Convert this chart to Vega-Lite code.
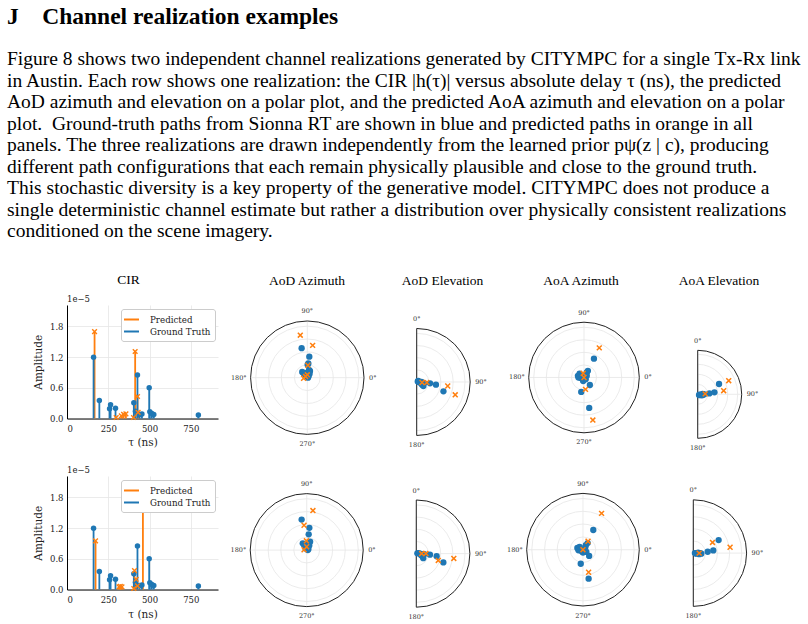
{
  "$schema": "https://vega.github.io/schema/vega-lite/v6.json",
  "background": "white",
  "padding": {"left": 0, "top": 4, "right": 0, "bottom": 0},
  "bounds": "flush",
  "align": "each",
  "spacing": 0,
  "columns": 6,
  "title": {
    "text": "J\u00a0\u00a0\u00a0\u00a0Channel realization examples",
    "subtitle": [
      "Figure 8 shows two independent channel realizations generated by CITYMPC for a single Tx-Rx link",
      "in Austin. Each row shows one realization: the CIR |h(τ)| versus absolute delay τ (ns), the predicted",
      "AoD azimuth and elevation on a polar plot, and the predicted AoA azimuth and elevation on a polar",
      "plot.\u00a0 Ground-truth paths from Sionna RT are shown in blue and predicted paths in orange in all",
      "panels. The three realizations are drawn independently from the learned prior pψ(z | c), producing",
      "different path configurations that each remain physically plausible and close to the ground truth.",
      "This stochastic diversity is a key property of the generative model. CITYMPC does not produce a",
      "single deterministic channel estimate but rather a distribution over physically consistent realizations",
      "conditioned on the scene imagery."
    ],
    "anchor": "start",
    "frame": "group",
    "orient": "top",
    "dx": 7,
    "offset": 32.5,
    "font": "Liberation Serif",
    "fontSize": 23.5,
    "fontWeight": "bold",
    "color": "#000",
    "subtitleFont": "Liberation Serif",
    "subtitleFontSize": 19.5,
    "subtitleColor": "#000",
    "subtitleLineHeight": 21.5,
    "subtitlePadding": 22
  },
  "datasets": {
    "cir1": [
      {"series": "Predicted", "delay_ns": 167, "amp": 1.7},
      {"series": "Predicted", "delay_ns": 298, "amp": 0.02},
      {"series": "Predicted", "delay_ns": 329, "amp": 0.05},
      {"series": "Predicted", "delay_ns": 343, "amp": 0.08},
      {"series": "Predicted", "delay_ns": 357, "amp": 0.09},
      {"series": "Predicted", "delay_ns": 403, "amp": 0.02},
      {"series": "Predicted", "delay_ns": 413, "amp": 1.31},
      {"series": "Predicted", "delay_ns": 427, "amp": 0.43},
      {"series": "Predicted", "delay_ns": 431, "amp": 0.12},
      {"series": "Ground Truth", "delay_ns": 161, "amp": 1.2},
      {"series": "Ground Truth", "delay_ns": 196, "amp": 0.35},
      {"series": "Ground Truth", "delay_ns": 258, "amp": 0.19},
      {"series": "Ground Truth", "delay_ns": 264, "amp": 0.27},
      {"series": "Ground Truth", "delay_ns": 294, "amp": 0.2},
      {"series": "Ground Truth", "delay_ns": 405, "amp": 0.31},
      {"series": "Ground Truth", "delay_ns": 415, "amp": 0.14},
      {"series": "Ground Truth", "delay_ns": 427, "amp": 0.85},
      {"series": "Ground Truth", "delay_ns": 440, "amp": 0.08},
      {"series": "Ground Truth", "delay_ns": 454, "amp": 0.09},
      {"series": "Ground Truth", "delay_ns": 498, "amp": 0.6},
      {"series": "Ground Truth", "delay_ns": 502, "amp": 0.13},
      {"series": "Ground Truth", "delay_ns": 514, "amp": 0.1},
      {"series": "Ground Truth", "delay_ns": 526, "amp": 0.08},
      {"series": "Ground Truth", "delay_ns": 796, "amp": 0.07}
    ],
    "cir2": [
      {"series": "Predicted", "delay_ns": 173, "amp": 0.95},
      {"series": "Predicted", "delay_ns": 315, "amp": 0.05},
      {"series": "Predicted", "delay_ns": 323, "amp": 0.06},
      {"series": "Predicted", "delay_ns": 333, "amp": 0.05},
      {"series": "Predicted", "delay_ns": 405, "amp": 0.02},
      {"series": "Predicted", "delay_ns": 409, "amp": 0.37},
      {"series": "Predicted", "delay_ns": 419, "amp": 0.2},
      {"series": "Predicted", "delay_ns": 427, "amp": 0.07},
      {"series": "Predicted", "delay_ns": 460, "amp": 1.58},
      {"series": "Ground Truth", "delay_ns": 161, "amp": 1.2},
      {"series": "Ground Truth", "delay_ns": 196, "amp": 0.35},
      {"series": "Ground Truth", "delay_ns": 258, "amp": 0.19},
      {"series": "Ground Truth", "delay_ns": 264, "amp": 0.27},
      {"series": "Ground Truth", "delay_ns": 294, "amp": 0.2},
      {"series": "Ground Truth", "delay_ns": 405, "amp": 0.31},
      {"series": "Ground Truth", "delay_ns": 415, "amp": 0.14},
      {"series": "Ground Truth", "delay_ns": 427, "amp": 0.85},
      {"series": "Ground Truth", "delay_ns": 440, "amp": 0.08},
      {"series": "Ground Truth", "delay_ns": 454, "amp": 0.09},
      {"series": "Ground Truth", "delay_ns": 498, "amp": 0.6},
      {"series": "Ground Truth", "delay_ns": 502, "amp": 0.13},
      {"series": "Ground Truth", "delay_ns": 514, "amp": 0.1},
      {"series": "Ground Truth", "delay_ns": 526, "amp": 0.08},
      {"series": "Ground Truth", "delay_ns": 796, "amp": 0.07}
    ],
    "aod_az_1": [
      {"series": "Ground Truth", "x": -0.1, "y": 0.52}, {"series": "Ground Truth", "x": 0.035, "y": 0.37},
      {"series": "Ground Truth", "x": 0.018, "y": 0.25}, {"series": "Ground Truth", "x": 0.006, "y": 0.23},
      {"series": "Ground Truth", "x": 0.03, "y": 0.135}, {"series": "Ground Truth", "x": 0.047, "y": 0.12},
      {"series": "Ground Truth", "x": -0.09, "y": 0.1}, {"series": "Ground Truth", "x": -0.06, "y": 0.076},
      {"series": "Ground Truth", "x": -0.024, "y": 0.06}, {"series": "Ground Truth", "x": 0.024, "y": 0.03},
      {"series": "Ground Truth", "x": 0.012, "y": 0.0}, {"series": "Ground Truth", "x": -0.03, "y": 0.05},
      {"series": "Ground Truth", "x": 0.0, "y": 0.09}, {"series": "Ground Truth", "x": 0.04, "y": 0.07},
      {"series": "Ground Truth", "x": -0.07, "y": 0.085},
      {"series": "Predicted", "x": -0.124, "y": 0.75}, {"series": "Predicted", "x": 0.094, "y": 0.57},
      {"series": "Predicted", "x": 0.01, "y": 0.22}, {"series": "Predicted", "x": -0.065, "y": -0.01},
      {"series": "Predicted", "x": 0.0, "y": 0.05}, {"series": "Predicted", "x": -0.03, "y": 0.02}
    ],
    "aod_el_1": [
      {"series": "Ground Truth", "x": 0.02, "y": 0.01}, {"series": "Ground Truth", "x": 0.03, "y": 0.02},
      {"series": "Ground Truth", "x": 0.06, "y": -0.01}, {"series": "Ground Truth", "x": 0.08, "y": -0.005},
      {"series": "Ground Truth", "x": 0.106, "y": -0.02}, {"series": "Ground Truth", "x": 0.125, "y": -0.075},
      {"series": "Ground Truth", "x": 0.1, "y": -0.05}, {"series": "Ground Truth", "x": 0.14, "y": -0.02},
      {"series": "Ground Truth", "x": 0.25, "y": -0.025}, {"series": "Ground Truth", "x": 0.36, "y": -0.05},
      {"series": "Ground Truth", "x": 0.5, "y": -0.175}, {"series": "Ground Truth", "x": 0.04, "y": 0.0},
      {"series": "Ground Truth", "x": 0.09, "y": 0.0},
      {"series": "Predicted", "x": 0.58, "y": -0.075}, {"series": "Predicted", "x": 0.72, "y": -0.24},
      {"series": "Predicted", "x": 0.19, "y": -0.01}, {"series": "Predicted", "x": 0.1, "y": -0.01}
    ],
    "aoa_az_1": [
      {"series": "Ground Truth", "x": 0.18, "y": 0.34}, {"series": "Ground Truth", "x": 0.07, "y": 0.12},
      {"series": "Ground Truth", "x": 0.05, "y": 0.09}, {"series": "Ground Truth", "x": -0.11, "y": 0.03},
      {"series": "Ground Truth", "x": -0.08, "y": 0.07}, {"series": "Ground Truth", "x": -0.06, "y": -0.01},
      {"series": "Ground Truth", "x": -0.02, "y": -0.03}, {"series": "Ground Truth", "x": -0.015, "y": -0.064},
      {"series": "Ground Truth", "x": 0.03, "y": -0.03}, {"series": "Ground Truth", "x": 0.05, "y": 0.03},
      {"series": "Ground Truth", "x": 0.106, "y": -0.136}, {"series": "Ground Truth", "x": -0.05, "y": -0.26},
      {"series": "Ground Truth", "x": 0.094, "y": -0.55}, {"series": "Ground Truth", "x": -0.1, "y": 0.0},
      {"series": "Ground Truth", "x": 0.0, "y": 0.02},
      {"series": "Predicted", "x": 0.276, "y": 0.536}, {"series": "Predicted", "x": 0.027, "y": -0.215},
      {"series": "Predicted", "x": 0.16, "y": -0.77}, {"series": "Predicted", "x": -0.015, "y": 0.076},
      {"series": "Predicted", "x": 0.0, "y": 0.0}
    ],
    "aoa_el_1": [
      {"series": "Ground Truth", "x": 0.05, "y": -0.01}, {"series": "Ground Truth", "x": 0.08, "y": -0.02},
      {"series": "Ground Truth", "x": 0.11, "y": 0.01}, {"series": "Ground Truth", "x": 0.13, "y": -0.005},
      {"series": "Ground Truth", "x": 0.15, "y": 0.0}, {"series": "Ground Truth", "x": 0.265, "y": 0.02},
      {"series": "Ground Truth", "x": 0.38, "y": 0.045}, {"series": "Ground Truth", "x": 0.485, "y": 0.235},
      {"series": "Ground Truth", "x": 0.03, "y": -0.015}, {"series": "Ground Truth", "x": 0.1, "y": -0.02},
      {"series": "Predicted", "x": 0.705, "y": 0.31}, {"series": "Predicted", "x": 0.59, "y": 0.083},
      {"series": "Predicted", "x": 0.17, "y": 0.01}
    ],
    "aod_az_2": [
      {"series": "Ground Truth", "x": -0.09, "y": 0.54}, {"series": "Ground Truth", "x": 0.047, "y": 0.395},
      {"series": "Ground Truth", "x": 0.035, "y": 0.28}, {"series": "Ground Truth", "x": 0.06, "y": 0.15},
      {"series": "Ground Truth", "x": 0.04, "y": 0.11}, {"series": "Ground Truth", "x": -0.07, "y": 0.12},
      {"series": "Ground Truth", "x": -0.04, "y": 0.095}, {"series": "Ground Truth", "x": -0.01, "y": 0.065},
      {"series": "Ground Truth", "x": 0.03, "y": 0.02}, {"series": "Ground Truth", "x": 0.015, "y": 0.05},
      {"series": "Ground Truth", "x": -0.05, "y": 0.1}, {"series": "Ground Truth", "x": 0.02, "y": 0.0},
      {"series": "Ground Truth", "x": 0.045, "y": 0.08}, {"series": "Ground Truth", "x": -0.02, "y": 0.03},
      {"series": "Predicted", "x": 0.11, "y": 0.7}, {"series": "Predicted", "x": -0.047, "y": 0.44},
      {"series": "Predicted", "x": -0.006, "y": 0.165}, {"series": "Predicted", "x": -0.047, "y": 0.006},
      {"series": "Predicted", "x": 0.0, "y": 0.06}
    ],
    "aod_el_2": [
      {"series": "Ground Truth", "x": 0.04, "y": 0.01}, {"series": "Ground Truth", "x": 0.07, "y": 0.0},
      {"series": "Ground Truth", "x": 0.1, "y": -0.01}, {"series": "Ground Truth", "x": 0.13, "y": -0.085},
      {"series": "Ground Truth", "x": 0.12, "y": -0.05}, {"series": "Ground Truth", "x": 0.255, "y": -0.02},
      {"series": "Ground Truth", "x": 0.38, "y": -0.05}, {"series": "Ground Truth", "x": 0.505, "y": -0.165},
      {"series": "Ground Truth", "x": 0.02, "y": 0.005}, {"series": "Ground Truth", "x": 0.09, "y": -0.03},
      {"series": "Ground Truth", "x": 0.15, "y": -0.01},
      {"series": "Predicted", "x": 0.7, "y": -0.09}, {"series": "Predicted", "x": 0.41, "y": -0.127},
      {"series": "Predicted", "x": 0.18, "y": 0.0}, {"series": "Predicted", "x": 0.1, "y": 0.0}
    ],
    "aoa_az_2": [
      {"series": "Ground Truth", "x": 0.183, "y": 0.35}, {"series": "Ground Truth", "x": 0.083, "y": 0.118},
      {"series": "Ground Truth", "x": 0.05, "y": 0.08}, {"series": "Ground Truth", "x": -0.1, "y": 0.03},
      {"series": "Ground Truth", "x": -0.06, "y": 0.05}, {"series": "Ground Truth", "x": -0.05, "y": 0.0},
      {"series": "Ground Truth", "x": -0.02, "y": -0.03}, {"series": "Ground Truth", "x": 0.02, "y": -0.02},
      {"series": "Ground Truth", "x": 0.04, "y": 0.04}, {"series": "Ground Truth", "x": 0.11, "y": -0.11},
      {"series": "Ground Truth", "x": -0.04, "y": -0.25}, {"series": "Ground Truth", "x": 0.1, "y": -0.515},
      {"series": "Ground Truth", "x": -0.08, "y": -0.01}, {"series": "Ground Truth", "x": 0.0, "y": -0.05},
      {"series": "Ground Truth", "x": 0.06, "y": -0.04},
      {"series": "Predicted", "x": 0.33, "y": 0.645}, {"series": "Predicted", "x": 0.1, "y": -0.4},
      {"series": "Predicted", "x": 0.09, "y": 0.15}, {"series": "Predicted", "x": 0.0, "y": 0.0}
    ],
    "aoa_el_2": [
      {"series": "Ground Truth", "x": 0.045, "y": -0.005}, {"series": "Ground Truth", "x": 0.09, "y": 0.01},
      {"series": "Ground Truth", "x": 0.13, "y": 0.0}, {"series": "Ground Truth", "x": 0.15, "y": -0.01},
      {"series": "Ground Truth", "x": 0.27, "y": 0.025}, {"series": "Ground Truth", "x": 0.375, "y": 0.05},
      {"series": "Ground Truth", "x": 0.475, "y": 0.245}, {"series": "Ground Truth", "x": 0.03, "y": 0.0},
      {"series": "Ground Truth", "x": 0.11, "y": -0.02}, {"series": "Ground Truth", "x": 0.06, "y": -0.01},
      {"series": "Predicted", "x": 0.36, "y": 0.2}, {"series": "Predicted", "x": 0.69, "y": 0.11},
      {"series": "Predicted", "x": 0.11, "y": 0.0}
    ]
  },
  "concat": [
    {"width": 67, "height": 20, "data": {"values": [{}]}, "mark": {"type": "text", "text": ""}},
    {
      "width": 151, "height": 113.5,
      "title": {"text": "CIR", "dx": -14, "offset": 1.5, "baseline": "middle", "anchor": "middle", "frame": "group", "font": "Liberation Serif", "fontSize": 13.5, "fontWeight": "normal", "color": "#000"},
      "data": {"name": "cir1"},
      "layer": [
        {
          "mark": {"type": "rule", "strokeWidth": 1.8},
          "encoding": {
            "x": {"field": "delay_ns", "type": "quantitative", "scale": {"domain": [0, 915], "nice": false, "zero": false},
                  "axis": {"values": [0, 250, 500, 750], "tickCount": 10, "title": "τ (ns)", "grid": true, "gridColor": "#e6e6e6", "gridWidth": 0.8, "ticks": false, "labelOverlap": false, "domainColor": "#000", "domainWidth": 1, "labelFont": "DejaVu Serif", "labelFontSize": 8.5, "labelColor": "#222", "labelPadding": 6, "titleFont": "DejaVu Serif", "titleFontSize": 10.5, "titleFontWeight": "normal", "titleColor": "#222", "titlePadding": 4}},
            "y": {"field": "amp", "type": "quantitative", "scale": {"domain": [0, 2.22], "nice": false, "zero": false},
                  "axis": {"values": [0, 0.6, 1.2, 1.8], "tickCount": 10, "format": ".1f", "title": "Amplitude", "grid": true, "gridColor": "#e6e6e6", "gridWidth": 0.8, "ticks": false, "labelOverlap": false, "domainColor": "#000", "domainWidth": 1, "labelFont": "DejaVu Serif", "labelFontSize": 8.5, "labelColor": "#222", "labelPadding": 4, "titleFont": "DejaVu Serif", "titleFontSize": 10.5, "titleFontWeight": "normal", "titleColor": "#222", "titlePadding": 6}},
            "y2": {"datum": 0},
            "color": {"field": "series", "type": "nominal", "scale": {"domain": ["Predicted", "Ground Truth"], "range": ["#ff7f0e", "#1f77b4"]},
                      "legend": {"title": null, "orient": "top-right", "offset": 3.5, "fillColor": "#fff", "strokeColor": "#cccccc", "cornerRadius": 2.5, "padding": 4, "symbolType": "M-1.36,0L1.36,0", "symbolSize": 121, "symbolStrokeWidth": 2, "labelFont": "DejaVu Serif", "labelFontSize": 8.7, "labelColor": "#222", "labelOffset": 12, "rowPadding": 0}}
          }
        },
        {
          "transform": [{"filter": "datum.series === 'Ground Truth'"}],
          "mark": {"type": "point", "shape": "circle", "filled": true, "size": 30, "color": "#1f77b4", "opacity": 1},
          "encoding": {"x": {"field": "delay_ns", "type": "quantitative"}, "y": {"field": "amp", "type": "quantitative"}}
        },
        {
          "transform": [{"filter": "datum.series === 'Predicted'"}],
          "mark": {"type": "point", "shape": "M-1,-1L1,1M-1,1L1,-1", "filled": false, "size": 22, "strokeWidth": 1.4, "color": "#ff7f0e", "opacity": 1},
          "encoding": {"x": {"field": "delay_ns", "type": "quantitative"}, "y": {"field": "amp", "type": "quantitative"}}
        },
        {
          "data": {"values": [{}]},
          "mark": {"type": "text", "text": "1e−5", "align": "left", "baseline": "middle", "dy": -6, "font": "DejaVu Serif", "fontSize": 8.5, "color": "#222"},
          "encoding": {"x": {"datum": 0, "type": "quantitative"}, "y": {"datum": 2.22, "type": "quantitative"}}
        }
      ]
    },
    {
      "width": 162, "height": 170.6,
      "title": {"text": "AoD Azimuth", "dx": 8, "offset": 11, "baseline": "middle", "anchor": "middle", "frame": "group", "font": "Liberation Serif", "fontSize": 13.5, "fontWeight": "normal", "color": "#000"},
      "layer": [
        {"data": {"values": [{"r": 0.227}, {"r": 0.455}, {"r": 0.682}, {"r": 0.909}]},
         "mark": {"type": "arc", "theta": 0, "theta2": 6.2832, "fill": "transparent", "stroke": "#e6e6e6", "strokeWidth": 0.8},
         "encoding": {"radius": {"field": "r", "type": "quantitative", "stack": null, "scale": {"type": "linear", "domain": [0, 1], "range": [0, 56.7], "zero": false, "nice": false}},
                      "x": {"datum": 0, "type": "quantitative", "scale": {"domain": [-1.575, 1.282], "nice": false, "zero": false}, "axis": null},
                      "y": {"datum": 0, "type": "quantitative", "scale": {"domain": [-1.727, 1.282], "nice": false, "zero": false}, "axis": null}}},
        {"data": {"values": [{"x": -1, "y": 0, "x2": 1, "y2": 0}, {"x": 0, "y": -1, "x2": 0, "y2": 1}]},
         "mark": {"type": "rule", "stroke": "#e6e6e6", "strokeWidth": 0.8},
         "encoding": {"x": {"field": "x", "type": "quantitative", "axis": null}, "y": {"field": "y", "type": "quantitative", "axis": null}, "x2": {"field": "x2"}, "y2": {"field": "y2"}}},
        {"data": {"values": [{"r": 1}]},
         "mark": {"type": "arc", "theta": 0, "theta2": 6.2832, "fill": "transparent", "stroke": "#222", "strokeWidth": 1},
         "encoding": {"radius": {"field": "r", "type": "quantitative", "stack": null}, "x": {"datum": 0, "type": "quantitative", "axis": null}, "y": {"datum": 0, "type": "quantitative", "axis": null}}},
        {"data": {"name": "aod_az_1"}, "transform": [{"filter": "datum.series === 'Ground Truth'"}],
         "mark": {"type": "point", "shape": "circle", "filled": true, "size": 40, "color": "#1f77b4", "opacity": 1},
         "encoding": {"x": {"field": "x", "type": "quantitative", "axis": null}, "y": {"field": "y", "type": "quantitative", "axis": null}}},
        {"data": {"name": "aod_az_1"}, "transform": [{"filter": "datum.series === 'Predicted'"}],
         "mark": {"type": "point", "shape": "M-1,-1L1,1M-1,1L1,-1", "filled": false, "size": 24, "strokeWidth": 1.5, "color": "#ff7f0e", "opacity": 1},
         "encoding": {"x": {"field": "x", "type": "quantitative", "axis": null}, "y": {"field": "y", "type": "quantitative", "axis": null}}},
        {"data": {"values": [{}]}, "mark": {"type": "text", "text": "90°", "dy": -9.5, "align": "center", "baseline": "middle", "font": "DejaVu Serif", "fontSize": 6.5, "color": "#333"},
         "encoding": {"x": {"datum": 0, "type": "quantitative", "axis": null}, "y": {"datum": 1, "type": "quantitative", "axis": null}}},
        {"data": {"values": [{}]}, "mark": {"type": "text", "text": "0°", "dx": 5, "align": "left", "baseline": "middle", "font": "DejaVu Serif", "fontSize": 6.5, "color": "#333"},
         "encoding": {"x": {"datum": 1, "type": "quantitative", "axis": null}, "y": {"datum": 0, "type": "quantitative", "axis": null}}},
        {"data": {"values": [{}]}, "mark": {"type": "text", "text": "180°", "dx": -4, "align": "right", "baseline": "middle", "font": "DejaVu Serif", "fontSize": 6.5, "color": "#333"},
         "encoding": {"x": {"datum": -1, "type": "quantitative", "axis": null}, "y": {"datum": 0, "type": "quantitative", "axis": null}}},
        {"data": {"values": [{}]}, "mark": {"type": "text", "text": "270°", "dy": 9.5, "align": "center", "baseline": "middle", "font": "DejaVu Serif", "fontSize": 6.5, "color": "#333"},
         "encoding": {"x": {"datum": 0, "type": "quantitative", "axis": null}, "y": {"datum": -1, "type": "quantitative", "axis": null}}}
      ]
    },
    {
      "width": 120, "height": 170.6,
      "title": {"text": "AoD Elevation", "dx": 2.5, "offset": 11, "baseline": "middle", "anchor": "middle", "frame": "group", "font": "Liberation Serif", "fontSize": 13.5, "fontWeight": "normal", "color": "#000"},
      "layer": [
        {"data": {"values": [{"r": 0.227}, {"r": 0.455}, {"r": 0.682}, {"r": 0.909}]},
         "mark": {"type": "arc", "theta": 0, "theta2": 3.14159, "fill": "transparent", "stroke": "#e6e6e6", "strokeWidth": 0.8},
         "encoding": {"radius": {"field": "r", "type": "quantitative", "stack": null, "scale": {"type": "linear", "domain": [0, 1], "range": [0, 53.5], "zero": false, "nice": false}},
                      "x": {"datum": 0, "type": "quantitative", "scale": {"domain": [-0.686, 1.557], "nice": false, "zero": false}, "axis": null},
                      "y": {"datum": 0, "type": "quantitative", "scale": {"domain": [-1.75, 1.439], "nice": false, "zero": false}, "axis": null}}},
        {"data": {"values": [{"x": 0, "y": 0, "x2": 1, "y2": 0}]},
         "mark": {"type": "rule", "stroke": "#e6e6e6", "strokeWidth": 0.8},
         "encoding": {"x": {"field": "x", "type": "quantitative", "axis": null}, "y": {"field": "y", "type": "quantitative", "axis": null}, "x2": {"field": "x2"}, "y2": {"field": "y2"}}},
        {"data": {"values": [{"r": 1}]},
         "mark": {"type": "arc", "theta": 0, "theta2": 3.14159, "fill": "transparent", "stroke": "#222", "strokeWidth": 1},
         "encoding": {"radius": {"field": "r", "type": "quantitative", "stack": null}, "x": {"datum": 0, "type": "quantitative", "axis": null}, "y": {"datum": 0, "type": "quantitative", "axis": null}}},
        {"data": {"name": "aod_el_1"}, "transform": [{"filter": "datum.series === 'Ground Truth'"}],
         "mark": {"type": "point", "shape": "circle", "filled": true, "size": 40, "color": "#1f77b4", "opacity": 1},
         "encoding": {"x": {"field": "x", "type": "quantitative", "axis": null}, "y": {"field": "y", "type": "quantitative", "axis": null}}},
        {"data": {"name": "aod_el_1"}, "transform": [{"filter": "datum.series === 'Predicted'"}],
         "mark": {"type": "point", "shape": "M-1,-1L1,1M-1,1L1,-1", "filled": false, "size": 24, "strokeWidth": 1.5, "color": "#ff7f0e", "opacity": 1},
         "encoding": {"x": {"field": "x", "type": "quantitative", "axis": null}, "y": {"field": "y", "type": "quantitative", "axis": null}}},
        {"data": {"values": [{}]}, "mark": {"type": "text", "text": "0°", "dy": -9.5, "align": "center", "baseline": "middle", "font": "DejaVu Serif", "fontSize": 6.5, "color": "#333"},
         "encoding": {"x": {"datum": 0, "type": "quantitative", "axis": null}, "y": {"datum": 1, "type": "quantitative", "axis": null}}},
        {"data": {"values": [{}]}, "mark": {"type": "text", "text": "90°", "dx": 5, "align": "left", "baseline": "middle", "font": "DejaVu Serif", "fontSize": 6.5, "color": "#333"},
         "encoding": {"x": {"datum": 1, "type": "quantitative", "axis": null}, "y": {"datum": 0, "type": "quantitative", "axis": null}}},
        {"data": {"values": [{}]}, "mark": {"type": "text", "text": "180°", "dy": 9.5, "align": "center", "baseline": "middle", "font": "DejaVu Serif", "fontSize": 6.5, "color": "#333"},
         "encoding": {"x": {"datum": 0, "type": "quantitative", "axis": null}, "y": {"datum": -1, "type": "quantitative", "axis": null}}}
      ]
    },
    {
      "width": 160, "height": 170.6,
      "title": {"text": "AoA Azimuth", "dx": 1, "offset": 11, "baseline": "middle", "anchor": "middle", "frame": "group", "font": "Liberation Serif", "fontSize": 13.5, "fontWeight": "normal", "color": "#000"},
      "layer": [
        {"data": {"values": [{"r": 0.227}, {"r": 0.455}, {"r": 0.682}, {"r": 0.909}]},
         "mark": {"type": "arc", "theta": 0, "theta2": 6.2832, "fill": "transparent", "stroke": "#e6e6e6", "strokeWidth": 0.8},
         "encoding": {"radius": {"field": "r", "type": "quantitative", "stack": null, "scale": {"type": "linear", "domain": [0, 1], "range": [0, 55.3], "zero": false, "nice": false}},
                      "x": {"datum": 0, "type": "quantitative", "scale": {"domain": [-1.519, 1.374], "nice": false, "zero": false}, "axis": null},
                      "y": {"datum": 0, "type": "quantitative", "scale": {"domain": [-1.774, 1.311], "nice": false, "zero": false}, "axis": null}}},
        {"data": {"values": [{"x": -1, "y": 0, "x2": 1, "y2": 0}, {"x": 0, "y": -1, "x2": 0, "y2": 1}]},
         "mark": {"type": "rule", "stroke": "#e6e6e6", "strokeWidth": 0.8},
         "encoding": {"x": {"field": "x", "type": "quantitative", "axis": null}, "y": {"field": "y", "type": "quantitative", "axis": null}, "x2": {"field": "x2"}, "y2": {"field": "y2"}}},
        {"data": {"values": [{"r": 1}]},
         "mark": {"type": "arc", "theta": 0, "theta2": 6.2832, "fill": "transparent", "stroke": "#222", "strokeWidth": 1},
         "encoding": {"radius": {"field": "r", "type": "quantitative", "stack": null}, "x": {"datum": 0, "type": "quantitative", "axis": null}, "y": {"datum": 0, "type": "quantitative", "axis": null}}},
        {"data": {"name": "aoa_az_1"}, "transform": [{"filter": "datum.series === 'Ground Truth'"}],
         "mark": {"type": "point", "shape": "circle", "filled": true, "size": 40, "color": "#1f77b4", "opacity": 1},
         "encoding": {"x": {"field": "x", "type": "quantitative", "axis": null}, "y": {"field": "y", "type": "quantitative", "axis": null}}},
        {"data": {"name": "aoa_az_1"}, "transform": [{"filter": "datum.series === 'Predicted'"}],
         "mark": {"type": "point", "shape": "M-1,-1L1,1M-1,1L1,-1", "filled": false, "size": 24, "strokeWidth": 1.5, "color": "#ff7f0e", "opacity": 1},
         "encoding": {"x": {"field": "x", "type": "quantitative", "axis": null}, "y": {"field": "y", "type": "quantitative", "axis": null}}},
        {"data": {"values": [{}]}, "mark": {"type": "text", "text": "90°", "dy": -9.5, "align": "center", "baseline": "middle", "font": "DejaVu Serif", "fontSize": 6.5, "color": "#333"},
         "encoding": {"x": {"datum": 0, "type": "quantitative", "axis": null}, "y": {"datum": 1, "type": "quantitative", "axis": null}}},
        {"data": {"values": [{}]}, "mark": {"type": "text", "text": "0°", "dx": 5, "align": "left", "baseline": "middle", "font": "DejaVu Serif", "fontSize": 6.5, "color": "#333"},
         "encoding": {"x": {"datum": 1, "type": "quantitative", "axis": null}, "y": {"datum": 0, "type": "quantitative", "axis": null}}},
        {"data": {"values": [{}]}, "mark": {"type": "text", "text": "180°", "dx": -4, "align": "right", "baseline": "middle", "font": "DejaVu Serif", "fontSize": 6.5, "color": "#333"},
         "encoding": {"x": {"datum": -1, "type": "quantitative", "axis": null}, "y": {"datum": 0, "type": "quantitative", "axis": null}}},
        {"data": {"values": [{}]}, "mark": {"type": "text", "text": "270°", "dy": 9.5, "align": "center", "baseline": "middle", "font": "DejaVu Serif", "fontSize": 6.5, "color": "#333"},
         "encoding": {"x": {"datum": 0, "type": "quantitative", "axis": null}, "y": {"datum": -1, "type": "quantitative", "axis": null}}}
      ]
    },
    {
      "width": 148, "height": 170.6,
      "title": {"text": "AoA Elevation", "dx": -15, "offset": 11, "baseline": "middle", "anchor": "middle", "frame": "group", "font": "Liberation Serif", "fontSize": 13.5, "fontWeight": "normal", "color": "#000"},
      "layer": [
        {"data": {"values": [{"r": 0.227}, {"r": 0.455}, {"r": 0.682}, {"r": 0.909}]},
         "mark": {"type": "arc", "theta": 0, "theta2": 3.14159, "fill": "transparent", "stroke": "#e6e6e6", "strokeWidth": 0.8},
         "encoding": {"radius": {"field": "r", "type": "quantitative", "stack": null, "scale": {"type": "linear", "domain": [0, 1], "range": [0, 44], "zero": false, "nice": false}},
                      "x": {"datum": 0, "type": "quantitative", "scale": {"domain": [-0.857, 2.507], "nice": false, "zero": false}, "axis": null},
                      "y": {"datum": 0, "type": "quantitative", "scale": {"domain": [-1.848, 2.03], "nice": false, "zero": false}, "axis": null}}},
        {"data": {"values": [{"x": 0, "y": 0, "x2": 1, "y2": 0}]},
         "mark": {"type": "rule", "stroke": "#e6e6e6", "strokeWidth": 0.8},
         "encoding": {"x": {"field": "x", "type": "quantitative", "axis": null}, "y": {"field": "y", "type": "quantitative", "axis": null}, "x2": {"field": "x2"}, "y2": {"field": "y2"}}},
        {"data": {"values": [{"r": 1}]},
         "mark": {"type": "arc", "theta": 0, "theta2": 3.14159, "fill": "transparent", "stroke": "#222", "strokeWidth": 1},
         "encoding": {"radius": {"field": "r", "type": "quantitative", "stack": null}, "x": {"datum": 0, "type": "quantitative", "axis": null}, "y": {"datum": 0, "type": "quantitative", "axis": null}}},
        {"data": {"name": "aoa_el_1"}, "transform": [{"filter": "datum.series === 'Ground Truth'"}],
         "mark": {"type": "point", "shape": "circle", "filled": true, "size": 40, "color": "#1f77b4", "opacity": 1},
         "encoding": {"x": {"field": "x", "type": "quantitative", "axis": null}, "y": {"field": "y", "type": "quantitative", "axis": null}}},
        {"data": {"name": "aoa_el_1"}, "transform": [{"filter": "datum.series === 'Predicted'"}],
         "mark": {"type": "point", "shape": "M-1,-1L1,1M-1,1L1,-1", "filled": false, "size": 24, "strokeWidth": 1.5, "color": "#ff7f0e", "opacity": 1},
         "encoding": {"x": {"field": "x", "type": "quantitative", "axis": null}, "y": {"field": "y", "type": "quantitative", "axis": null}}},
        {"data": {"values": [{}]}, "mark": {"type": "text", "text": "0°", "dy": -9.5, "align": "center", "baseline": "middle", "font": "DejaVu Serif", "fontSize": 6.5, "color": "#333"},
         "encoding": {"x": {"datum": 0, "type": "quantitative", "axis": null}, "y": {"datum": 1, "type": "quantitative", "axis": null}}},
        {"data": {"values": [{}]}, "mark": {"type": "text", "text": "90°", "dx": 5, "align": "left", "baseline": "middle", "font": "DejaVu Serif", "fontSize": 6.5, "color": "#333"},
         "encoding": {"x": {"datum": 1, "type": "quantitative", "axis": null}, "y": {"datum": 0, "type": "quantitative", "axis": null}}},
        {"data": {"values": [{}]}, "mark": {"type": "text", "text": "180°", "dy": 9.5, "align": "center", "baseline": "middle", "font": "DejaVu Serif", "fontSize": 6.5, "color": "#333"},
         "encoding": {"x": {"datum": 0, "type": "quantitative", "axis": null}, "y": {"datum": -1, "type": "quantitative", "axis": null}}}
      ]
    },
    {"width": 67, "height": 20, "data": {"values": [{}]}, "mark": {"type": "text", "text": ""}},
    {
      "width": 151, "height": 113.5,
      "data": {"name": "cir2"},
      "layer": [
        {
          "mark": {"type": "rule", "strokeWidth": 1.8},
          "encoding": {
            "x": {"field": "delay_ns", "type": "quantitative", "scale": {"domain": [0, 915], "nice": false, "zero": false},
                  "axis": {"values": [0, 250, 500, 750], "tickCount": 10, "title": "τ (ns)", "grid": true, "gridColor": "#e6e6e6", "gridWidth": 0.8, "ticks": false, "labelOverlap": false, "domainColor": "#000", "domainWidth": 1, "labelFont": "DejaVu Serif", "labelFontSize": 8.5, "labelColor": "#222", "labelPadding": 6, "titleFont": "DejaVu Serif", "titleFontSize": 10.5, "titleFontWeight": "normal", "titleColor": "#222", "titlePadding": 5.5}},
            "y": {"field": "amp", "type": "quantitative", "scale": {"domain": [0, 2.22], "nice": false, "zero": false},
                  "axis": {"values": [0, 0.6, 1.2, 1.8], "tickCount": 10, "format": ".1f", "title": "Amplitude", "grid": true, "gridColor": "#e6e6e6", "gridWidth": 0.8, "ticks": false, "labelOverlap": false, "domainColor": "#000", "domainWidth": 1, "labelFont": "DejaVu Serif", "labelFontSize": 8.5, "labelColor": "#222", "labelPadding": 4, "titleFont": "DejaVu Serif", "titleFontSize": 10.5, "titleFontWeight": "normal", "titleColor": "#222", "titlePadding": 6}},
            "y2": {"datum": 0},
            "color": {"field": "series", "type": "nominal", "scale": {"domain": ["Predicted", "Ground Truth"], "range": ["#ff7f0e", "#1f77b4"]},
                      "legend": {"title": null, "orient": "top-right", "offset": 3.5, "fillColor": "#fff", "strokeColor": "#cccccc", "cornerRadius": 2.5, "padding": 4, "symbolType": "M-1.36,0L1.36,0", "symbolSize": 121, "symbolStrokeWidth": 2, "labelFont": "DejaVu Serif", "labelFontSize": 8.7, "labelColor": "#222", "labelOffset": 12, "rowPadding": 0}}
          }
        },
        {
          "transform": [{"filter": "datum.series === 'Ground Truth'"}],
          "mark": {"type": "point", "shape": "circle", "filled": true, "size": 30, "color": "#1f77b4", "opacity": 1},
          "encoding": {"x": {"field": "delay_ns", "type": "quantitative"}, "y": {"field": "amp", "type": "quantitative"}}
        },
        {
          "transform": [{"filter": "datum.series === 'Predicted'"}],
          "mark": {"type": "point", "shape": "M-1,-1L1,1M-1,1L1,-1", "filled": false, "size": 22, "strokeWidth": 1.4, "color": "#ff7f0e", "opacity": 1},
          "encoding": {"x": {"field": "delay_ns", "type": "quantitative"}, "y": {"field": "amp", "type": "quantitative"}}
        },
        {
          "data": {"values": [{}]},
          "mark": {"type": "text", "text": "1e−5", "align": "left", "baseline": "middle", "dy": -6, "font": "DejaVu Serif", "fontSize": 8.5, "color": "#222"},
          "encoding": {"x": {"datum": 0, "type": "quantitative"}, "y": {"datum": 2.22, "type": "quantitative"}}
        }
      ]
    },
    {
      "width": 162, "height": 150,
      "layer": [
        {"data": {"values": [{"r": 0.227}, {"r": 0.455}, {"r": 0.682}, {"r": 0.909}]},
         "mark": {"type": "arc", "theta": 0, "theta2": 6.2832, "fill": "transparent", "stroke": "#e6e6e6", "strokeWidth": 0.8},
         "encoding": {"radius": {"field": "r", "type": "quantitative", "stack": null, "scale": {"type": "linear", "domain": [0, 1], "range": [0, 56.5], "zero": false, "nice": false}},
                      "x": {"datum": 0, "type": "quantitative", "scale": {"domain": [-1.57, 1.297], "nice": false, "zero": false}, "axis": null},
                      "y": {"datum": 0, "type": "quantitative", "scale": {"domain": [-1.343, 1.312], "nice": false, "zero": false}, "axis": null}}},
        {"data": {"values": [{"x": -1, "y": 0, "x2": 1, "y2": 0}, {"x": 0, "y": -1, "x2": 0, "y2": 1}]},
         "mark": {"type": "rule", "stroke": "#e6e6e6", "strokeWidth": 0.8},
         "encoding": {"x": {"field": "x", "type": "quantitative", "axis": null}, "y": {"field": "y", "type": "quantitative", "axis": null}, "x2": {"field": "x2"}, "y2": {"field": "y2"}}},
        {"data": {"values": [{"r": 1}]},
         "mark": {"type": "arc", "theta": 0, "theta2": 6.2832, "fill": "transparent", "stroke": "#222", "strokeWidth": 1},
         "encoding": {"radius": {"field": "r", "type": "quantitative", "stack": null}, "x": {"datum": 0, "type": "quantitative", "axis": null}, "y": {"datum": 0, "type": "quantitative", "axis": null}}},
        {"data": {"name": "aod_az_2"}, "transform": [{"filter": "datum.series === 'Ground Truth'"}],
         "mark": {"type": "point", "shape": "circle", "filled": true, "size": 40, "color": "#1f77b4", "opacity": 1},
         "encoding": {"x": {"field": "x", "type": "quantitative", "axis": null}, "y": {"field": "y", "type": "quantitative", "axis": null}}},
        {"data": {"name": "aod_az_2"}, "transform": [{"filter": "datum.series === 'Predicted'"}],
         "mark": {"type": "point", "shape": "M-1,-1L1,1M-1,1L1,-1", "filled": false, "size": 24, "strokeWidth": 1.5, "color": "#ff7f0e", "opacity": 1},
         "encoding": {"x": {"field": "x", "type": "quantitative", "axis": null}, "y": {"field": "y", "type": "quantitative", "axis": null}}},
        {"data": {"values": [{}]}, "mark": {"type": "text", "text": "90°", "dy": -9.5, "align": "center", "baseline": "middle", "font": "DejaVu Serif", "fontSize": 6.5, "color": "#333"},
         "encoding": {"x": {"datum": 0, "type": "quantitative", "axis": null}, "y": {"datum": 1, "type": "quantitative", "axis": null}}},
        {"data": {"values": [{}]}, "mark": {"type": "text", "text": "0°", "dx": 5, "align": "left", "baseline": "middle", "font": "DejaVu Serif", "fontSize": 6.5, "color": "#333"},
         "encoding": {"x": {"datum": 1, "type": "quantitative", "axis": null}, "y": {"datum": 0, "type": "quantitative", "axis": null}}},
        {"data": {"values": [{}]}, "mark": {"type": "text", "text": "180°", "dx": -4, "align": "right", "baseline": "middle", "font": "DejaVu Serif", "fontSize": 6.5, "color": "#333"},
         "encoding": {"x": {"datum": -1, "type": "quantitative", "axis": null}, "y": {"datum": 0, "type": "quantitative", "axis": null}}},
        {"data": {"values": [{}]}, "mark": {"type": "text", "text": "270°", "dy": 9.5, "align": "center", "baseline": "middle", "font": "DejaVu Serif", "fontSize": 6.5, "color": "#333"},
         "encoding": {"x": {"datum": 0, "type": "quantitative", "axis": null}, "y": {"datum": -1, "type": "quantitative", "axis": null}}}
      ]
    },
    {
      "width": 120, "height": 150,
      "layer": [
        {"data": {"values": [{"r": 0.227}, {"r": 0.455}, {"r": 0.682}, {"r": 0.909}]},
         "mark": {"type": "arc", "theta": 0, "theta2": 3.14159, "fill": "transparent", "stroke": "#e6e6e6", "strokeWidth": 0.8},
         "encoding": {"radius": {"field": "r", "type": "quantitative", "stack": null, "scale": {"type": "linear", "domain": [0, 1], "range": [0, 53.6], "zero": false, "nice": false}},
                      "x": {"datum": 0, "type": "quantitative", "scale": {"domain": [-0.677, 1.562], "nice": false, "zero": false}, "axis": null},
                      "y": {"datum": 0, "type": "quantitative", "scale": {"domain": [-1.351, 1.448], "nice": false, "zero": false}, "axis": null}}},
        {"data": {"values": [{"x": 0, "y": 0, "x2": 1, "y2": 0}]},
         "mark": {"type": "rule", "stroke": "#e6e6e6", "strokeWidth": 0.8},
         "encoding": {"x": {"field": "x", "type": "quantitative", "axis": null}, "y": {"field": "y", "type": "quantitative", "axis": null}, "x2": {"field": "x2"}, "y2": {"field": "y2"}}},
        {"data": {"values": [{"r": 1}]},
         "mark": {"type": "arc", "theta": 0, "theta2": 3.14159, "fill": "transparent", "stroke": "#222", "strokeWidth": 1},
         "encoding": {"radius": {"field": "r", "type": "quantitative", "stack": null}, "x": {"datum": 0, "type": "quantitative", "axis": null}, "y": {"datum": 0, "type": "quantitative", "axis": null}}},
        {"data": {"name": "aod_el_2"}, "transform": [{"filter": "datum.series === 'Ground Truth'"}],
         "mark": {"type": "point", "shape": "circle", "filled": true, "size": 40, "color": "#1f77b4", "opacity": 1},
         "encoding": {"x": {"field": "x", "type": "quantitative", "axis": null}, "y": {"field": "y", "type": "quantitative", "axis": null}}},
        {"data": {"name": "aod_el_2"}, "transform": [{"filter": "datum.series === 'Predicted'"}],
         "mark": {"type": "point", "shape": "M-1,-1L1,1M-1,1L1,-1", "filled": false, "size": 24, "strokeWidth": 1.5, "color": "#ff7f0e", "opacity": 1},
         "encoding": {"x": {"field": "x", "type": "quantitative", "axis": null}, "y": {"field": "y", "type": "quantitative", "axis": null}}},
        {"data": {"values": [{}]}, "mark": {"type": "text", "text": "0°", "dy": -9.5, "align": "center", "baseline": "middle", "font": "DejaVu Serif", "fontSize": 6.5, "color": "#333"},
         "encoding": {"x": {"datum": 0, "type": "quantitative", "axis": null}, "y": {"datum": 1, "type": "quantitative", "axis": null}}},
        {"data": {"values": [{}]}, "mark": {"type": "text", "text": "90°", "dx": 5, "align": "left", "baseline": "middle", "font": "DejaVu Serif", "fontSize": 6.5, "color": "#333"},
         "encoding": {"x": {"datum": 1, "type": "quantitative", "axis": null}, "y": {"datum": 0, "type": "quantitative", "axis": null}}},
        {"data": {"values": [{}]}, "mark": {"type": "text", "text": "180°", "dy": 9.5, "align": "center", "baseline": "middle", "font": "DejaVu Serif", "fontSize": 6.5, "color": "#333"},
         "encoding": {"x": {"datum": 0, "type": "quantitative", "axis": null}, "y": {"datum": -1, "type": "quantitative", "axis": null}}}
      ]
    },
    {
      "width": 160, "height": 150,
      "layer": [
        {"data": {"values": [{"r": 0.227}, {"r": 0.455}, {"r": 0.682}, {"r": 0.909}]},
         "mark": {"type": "arc", "theta": 0, "theta2": 6.2832, "fill": "transparent", "stroke": "#e6e6e6", "strokeWidth": 0.8},
         "encoding": {"radius": {"field": "r", "type": "quantitative", "stack": null, "scale": {"type": "linear", "domain": [0, 1], "range": [0, 56.3], "zero": false, "nice": false}},
                      "x": {"datum": 0, "type": "quantitative", "scale": {"domain": [-1.474, 1.368], "nice": false, "zero": false}, "axis": null},
                      "y": {"datum": 0, "type": "quantitative", "scale": {"domain": [-1.355, 1.309], "nice": false, "zero": false}, "axis": null}}},
        {"data": {"values": [{"x": -1, "y": 0, "x2": 1, "y2": 0}, {"x": 0, "y": -1, "x2": 0, "y2": 1}]},
         "mark": {"type": "rule", "stroke": "#e6e6e6", "strokeWidth": 0.8},
         "encoding": {"x": {"field": "x", "type": "quantitative", "axis": null}, "y": {"field": "y", "type": "quantitative", "axis": null}, "x2": {"field": "x2"}, "y2": {"field": "y2"}}},
        {"data": {"values": [{"r": 1}]},
         "mark": {"type": "arc", "theta": 0, "theta2": 6.2832, "fill": "transparent", "stroke": "#222", "strokeWidth": 1},
         "encoding": {"radius": {"field": "r", "type": "quantitative", "stack": null}, "x": {"datum": 0, "type": "quantitative", "axis": null}, "y": {"datum": 0, "type": "quantitative", "axis": null}}},
        {"data": {"name": "aoa_az_2"}, "transform": [{"filter": "datum.series === 'Ground Truth'"}],
         "mark": {"type": "point", "shape": "circle", "filled": true, "size": 40, "color": "#1f77b4", "opacity": 1},
         "encoding": {"x": {"field": "x", "type": "quantitative", "axis": null}, "y": {"field": "y", "type": "quantitative", "axis": null}}},
        {"data": {"name": "aoa_az_2"}, "transform": [{"filter": "datum.series === 'Predicted'"}],
         "mark": {"type": "point", "shape": "M-1,-1L1,1M-1,1L1,-1", "filled": false, "size": 24, "strokeWidth": 1.5, "color": "#ff7f0e", "opacity": 1},
         "encoding": {"x": {"field": "x", "type": "quantitative", "axis": null}, "y": {"field": "y", "type": "quantitative", "axis": null}}},
        {"data": {"values": [{}]}, "mark": {"type": "text", "text": "90°", "dy": -9.5, "align": "center", "baseline": "middle", "font": "DejaVu Serif", "fontSize": 6.5, "color": "#333"},
         "encoding": {"x": {"datum": 0, "type": "quantitative", "axis": null}, "y": {"datum": 1, "type": "quantitative", "axis": null}}},
        {"data": {"values": [{}]}, "mark": {"type": "text", "text": "0°", "dx": 5, "align": "left", "baseline": "middle", "font": "DejaVu Serif", "fontSize": 6.5, "color": "#333"},
         "encoding": {"x": {"datum": 1, "type": "quantitative", "axis": null}, "y": {"datum": 0, "type": "quantitative", "axis": null}}},
        {"data": {"values": [{}]}, "mark": {"type": "text", "text": "180°", "dx": -4, "align": "right", "baseline": "middle", "font": "DejaVu Serif", "fontSize": 6.5, "color": "#333"},
         "encoding": {"x": {"datum": -1, "type": "quantitative", "axis": null}, "y": {"datum": 0, "type": "quantitative", "axis": null}}},
        {"data": {"values": [{}]}, "mark": {"type": "text", "text": "270°", "dy": 9.5, "align": "center", "baseline": "middle", "font": "DejaVu Serif", "fontSize": 6.5, "color": "#333"},
         "encoding": {"x": {"datum": 0, "type": "quantitative", "axis": null}, "y": {"datum": -1, "type": "quantitative", "axis": null}}}
      ]
    },
    {
      "width": 148, "height": 150,
      "layer": [
        {"data": {"values": [{"r": 0.227}, {"r": 0.455}, {"r": 0.682}, {"r": 0.909}]},
         "mark": {"type": "arc", "theta": 0, "theta2": 3.14159, "fill": "transparent", "stroke": "#e6e6e6", "strokeWidth": 0.8},
         "encoding": {"radius": {"field": "r", "type": "quantitative", "stack": null, "scale": {"type": "linear", "domain": [0, 1], "range": [0, 53.3], "zero": false, "nice": false}},
                      "x": {"datum": 0, "type": "quantitative", "scale": {"domain": [-0.625, 2.152], "nice": false, "zero": false}, "axis": null},
                      "y": {"datum": 0, "type": "quantitative", "scale": {"domain": [-1.368, 1.447], "nice": false, "zero": false}, "axis": null}}},
        {"data": {"values": [{"x": 0, "y": 0, "x2": 1, "y2": 0}]},
         "mark": {"type": "rule", "stroke": "#e6e6e6", "strokeWidth": 0.8},
         "encoding": {"x": {"field": "x", "type": "quantitative", "axis": null}, "y": {"field": "y", "type": "quantitative", "axis": null}, "x2": {"field": "x2"}, "y2": {"field": "y2"}}},
        {"data": {"values": [{"r": 1}]},
         "mark": {"type": "arc", "theta": 0, "theta2": 3.14159, "fill": "transparent", "stroke": "#222", "strokeWidth": 1},
         "encoding": {"radius": {"field": "r", "type": "quantitative", "stack": null}, "x": {"datum": 0, "type": "quantitative", "axis": null}, "y": {"datum": 0, "type": "quantitative", "axis": null}}},
        {"data": {"name": "aoa_el_2"}, "transform": [{"filter": "datum.series === 'Ground Truth'"}],
         "mark": {"type": "point", "shape": "circle", "filled": true, "size": 40, "color": "#1f77b4", "opacity": 1},
         "encoding": {"x": {"field": "x", "type": "quantitative", "axis": null}, "y": {"field": "y", "type": "quantitative", "axis": null}}},
        {"data": {"name": "aoa_el_2"}, "transform": [{"filter": "datum.series === 'Predicted'"}],
         "mark": {"type": "point", "shape": "M-1,-1L1,1M-1,1L1,-1", "filled": false, "size": 24, "strokeWidth": 1.5, "color": "#ff7f0e", "opacity": 1},
         "encoding": {"x": {"field": "x", "type": "quantitative", "axis": null}, "y": {"field": "y", "type": "quantitative", "axis": null}}},
        {"data": {"values": [{}]}, "mark": {"type": "text", "text": "0°", "dy": -9.5, "align": "center", "baseline": "middle", "font": "DejaVu Serif", "fontSize": 6.5, "color": "#333"},
         "encoding": {"x": {"datum": 0, "type": "quantitative", "axis": null}, "y": {"datum": 1, "type": "quantitative", "axis": null}}},
        {"data": {"values": [{}]}, "mark": {"type": "text", "text": "90°", "dx": 5, "align": "left", "baseline": "middle", "font": "DejaVu Serif", "fontSize": 6.5, "color": "#333"},
         "encoding": {"x": {"datum": 1, "type": "quantitative", "axis": null}, "y": {"datum": 0, "type": "quantitative", "axis": null}}},
        {"data": {"values": [{}]}, "mark": {"type": "text", "text": "180°", "dy": 9.5, "align": "center", "baseline": "middle", "font": "DejaVu Serif", "fontSize": 6.5, "color": "#333"},
         "encoding": {"x": {"datum": 0, "type": "quantitative", "axis": null}, "y": {"datum": -1, "type": "quantitative", "axis": null}}}
      ]
    }
  ],
  "resolve": {"scale": {"x": "independent", "y": "independent", "color": "independent", "radius": "independent"}, "legend": {"color": "independent"}},
  "config": {"view": {"stroke": null}, "font": "DejaVu Serif"}
}
